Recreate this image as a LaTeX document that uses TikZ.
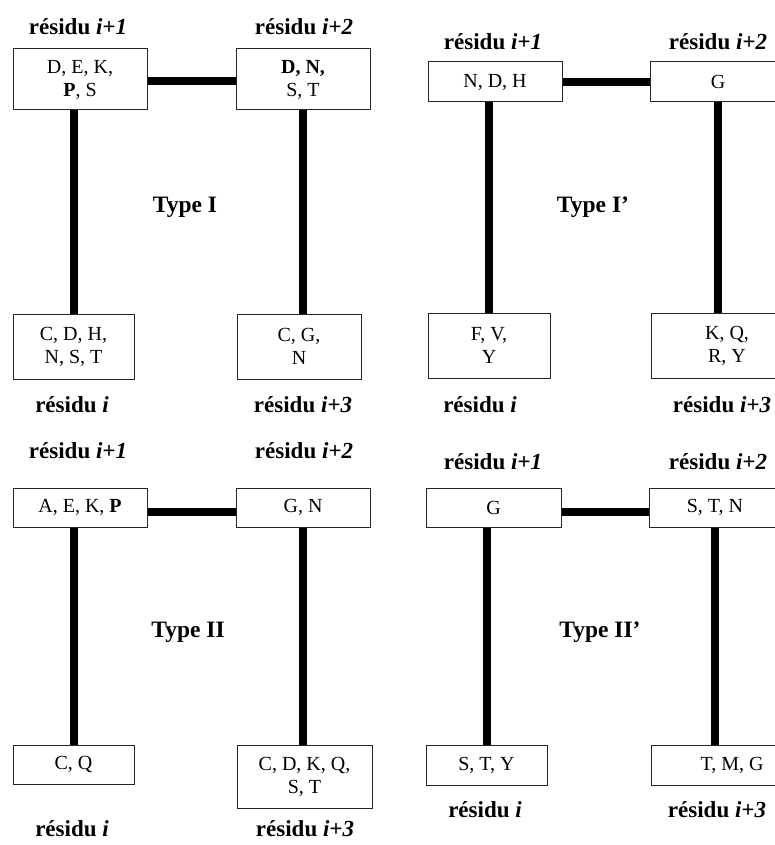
\documentclass[tikz,border=0pt]{standalone}
\usepackage{fontspec}
\setmainfont{Liberation Serif}
\begin{document}
\begin{tikzpicture}[x=1pt,y=-1pt,
  box/.style={draw=black!85,line width=1pt,fill=white,inner sep=0pt,align=center,
    font=\fontsize{20}{23}\selectfont},
  lab/.style={inner sep=0pt,font=\fontsize{23}{26}\selectfont\bfseries},
  typ/.style={inner sep=0pt,font=\fontsize{23.5}{26}\selectfont\bfseries},
  bar/.style={line width=8pt,black}]
\useasboundingbox (0,0) rectangle (775,845);
\clip (0,0) rectangle (775,845);
% ---------- Type I ----------
\node[lab] (l11) at (78,27) {résidu \textit{i+1}};
\node[lab] (l12) at (304,27) {résidu \textit{i+2}};
\node[box,minimum width=134pt,minimum height=61pt] (a1) at (80,79.5) {D, E, K,\\\textbf{P}, S};
\node[box,minimum width=134pt,minimum height=61pt] (b1) at (303,79.5) {\textbf{D, N,}\\S, T};
\node[box,minimum width=121pt,minimum height=65pt] (c1) at (73.5,346.5) {C, D, H,\\N, S, T};
\node[box,minimum width=124pt,minimum height=65pt] (d1) at (299,346.5) {C, G,\\N};
\node[lab] (l10) at (72,405) {résidu \textit{i}};
\node[lab] (l13) at (303,405) {résidu \textit{i+3}};
\node[typ] (t1) at (185,207) {Type I};
\draw[bar] ([yshift=-1.5pt]a1.east) -- ([yshift=-1.5pt]b1.west);
\draw[bar] (c1.north) -- (c1.north |- a1.south);
\draw[bar] (b1.south) -- (b1.south |- d1.north);
% ---------- Type I' ----------
\node[lab] (l21) at (493,42) {résidu \textit{i+1}};
\node[lab] (l22) at (718,42) {résidu \textit{i+2}};
\node[box,minimum width=134pt,minimum height=40pt] (a2) at (495,82) {N, D, H};
\node[box,minimum width=136pt,minimum height=40pt] (b2) at (718,82) {G};
\node[box,minimum width=122pt,minimum height=65pt] (c2) at (489,345.5) {F, V,\\Y};
\node[box,minimum width=152pt,minimum height=65pt] (d2) at (727,345.5) {K, Q,\\R, Y};
\node[lab] (l20) at (480,405) {résidu \textit{i}};
\node[lab] (l23) at (722,405) {résidu \textit{i+3}};
\node[typ] (t2) at (593,207) {Type I’};
\draw[bar] (a2.east) -- (b2.west);
\draw[bar] (c2.north) -- (c2.north |- a2.south);
\draw[bar] (b2.south) -- (b2.south |- d2.north);
% ---------- Type II ----------
\node[lab] (l31) at (78,451) {résidu \textit{i+1}};
\node[lab] (l32) at (304,451) {résidu \textit{i+2}};
\node[box,minimum width=134pt,minimum height=39pt] (a3) at (80,507.5) {A, E, K, \textbf{P}};
\node[box,minimum width=134pt,minimum height=39pt] (b3) at (303,507.5) {G, N};
\node[box,minimum width=121pt,minimum height=39pt] (c3) at (73.5,764.5) {C, Q};
\node[box,minimum width=135pt,minimum height=63pt] (d3) at (304.5,776.5) {C, D, K, Q,\\S, T};
\node[lab] (l30) at (72,829) {résidu \textit{i}};
\node[lab] (l33) at (305,829) {résidu \textit{i+3}};
\node[typ] (t3) at (188,632) {Type II};
\draw[bar] ([yshift=-4pt]a3.east) -- ([yshift=-4pt]b3.west);
\draw[bar] (c3.north) -- (c3.north |- a3.south);
\draw[bar] (b3.south) -- (b3.south |- d3.north);
% ---------- Type II' ----------
\node[lab] (l41) at (493,462) {résidu \textit{i+1}};
\node[lab] (l42) at (718,462) {résidu \textit{i+2}};
\node[box,minimum width=135pt,minimum height=39pt] (a4) at (493.5,507.5) {G};
\node[box,minimum width=132pt,minimum height=39pt] (b4) at (715,507.5) {S, T, N};
\node[box,minimum width=121pt,minimum height=40pt] (c4) at (486.5,765) {S, T, Y};
\node[box,minimum width=162pt,minimum height=40pt] (d4) at (732,765) {T, M, G};
\node[lab] (l40) at (485,810) {résidu \textit{i}};
\node[lab] (l43) at (717,810) {résidu \textit{i+3}};
\node[typ] (t4) at (600,632) {Type II’};
\draw[bar] ([yshift=-4pt]a4.east) -- ([yshift=-4pt]b4.west);
\draw[bar] (c4.north) -- (c4.north |- a4.south);
\draw[bar] (b4.south) -- (b4.south |- d4.north);
\end{tikzpicture}
\end{document}
